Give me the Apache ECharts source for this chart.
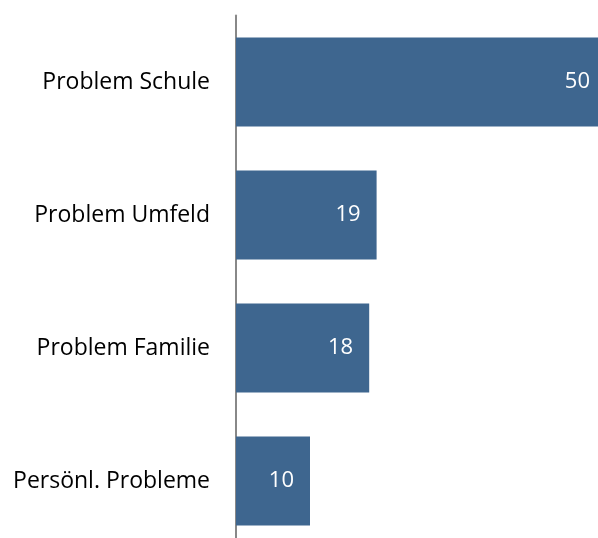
<!DOCTYPE html>
<html><head><meta charset="utf-8">
<script src="https://cdn.jsdelivr.net/npm/echarts@6/dist/echarts.min.js"></script>
<style>html,body{margin:0;padding:0;background:#fff}#c{width:598px;height:538px}</style>
</head><body><div id="c"></div>
<script>
const categories = ['Problem Schule', 'Problem Umfeld', 'Problem Familie', 'Persönl. Probleme'];
const values = [50, 19, 18, 10];
const chart = echarts.init(document.getElementById('c'));
chart.setOption({
  animation: false,
  grid: { left: 236, width: 370, top: 15.5, height: 532, containLabel: false, outerBoundsMode: 'none' },
  xAxis: { type: 'value', min: 0, max: 50, show: false },
  yAxis: {
    type: 'category', data: categories, inverse: true,
    axisLine: { show: true, lineStyle: { color: '#888888', width: 2 } },
    axisTick: { show: false },
    axisLabel: { color: '#000', fontSize: 23, fontFamily: 'Open Sans', margin: 26 }
  },
  series: [{
    type: 'bar', data: values, barCategoryGap: '33%',
    itemStyle: { color: '#3E668F' },
    label: { show: true, position: 'insideRight', distance: 16, color: '#fff', fontSize: 22, fontFamily: 'Open Sans' }
  }]
});
</script></body></html>
